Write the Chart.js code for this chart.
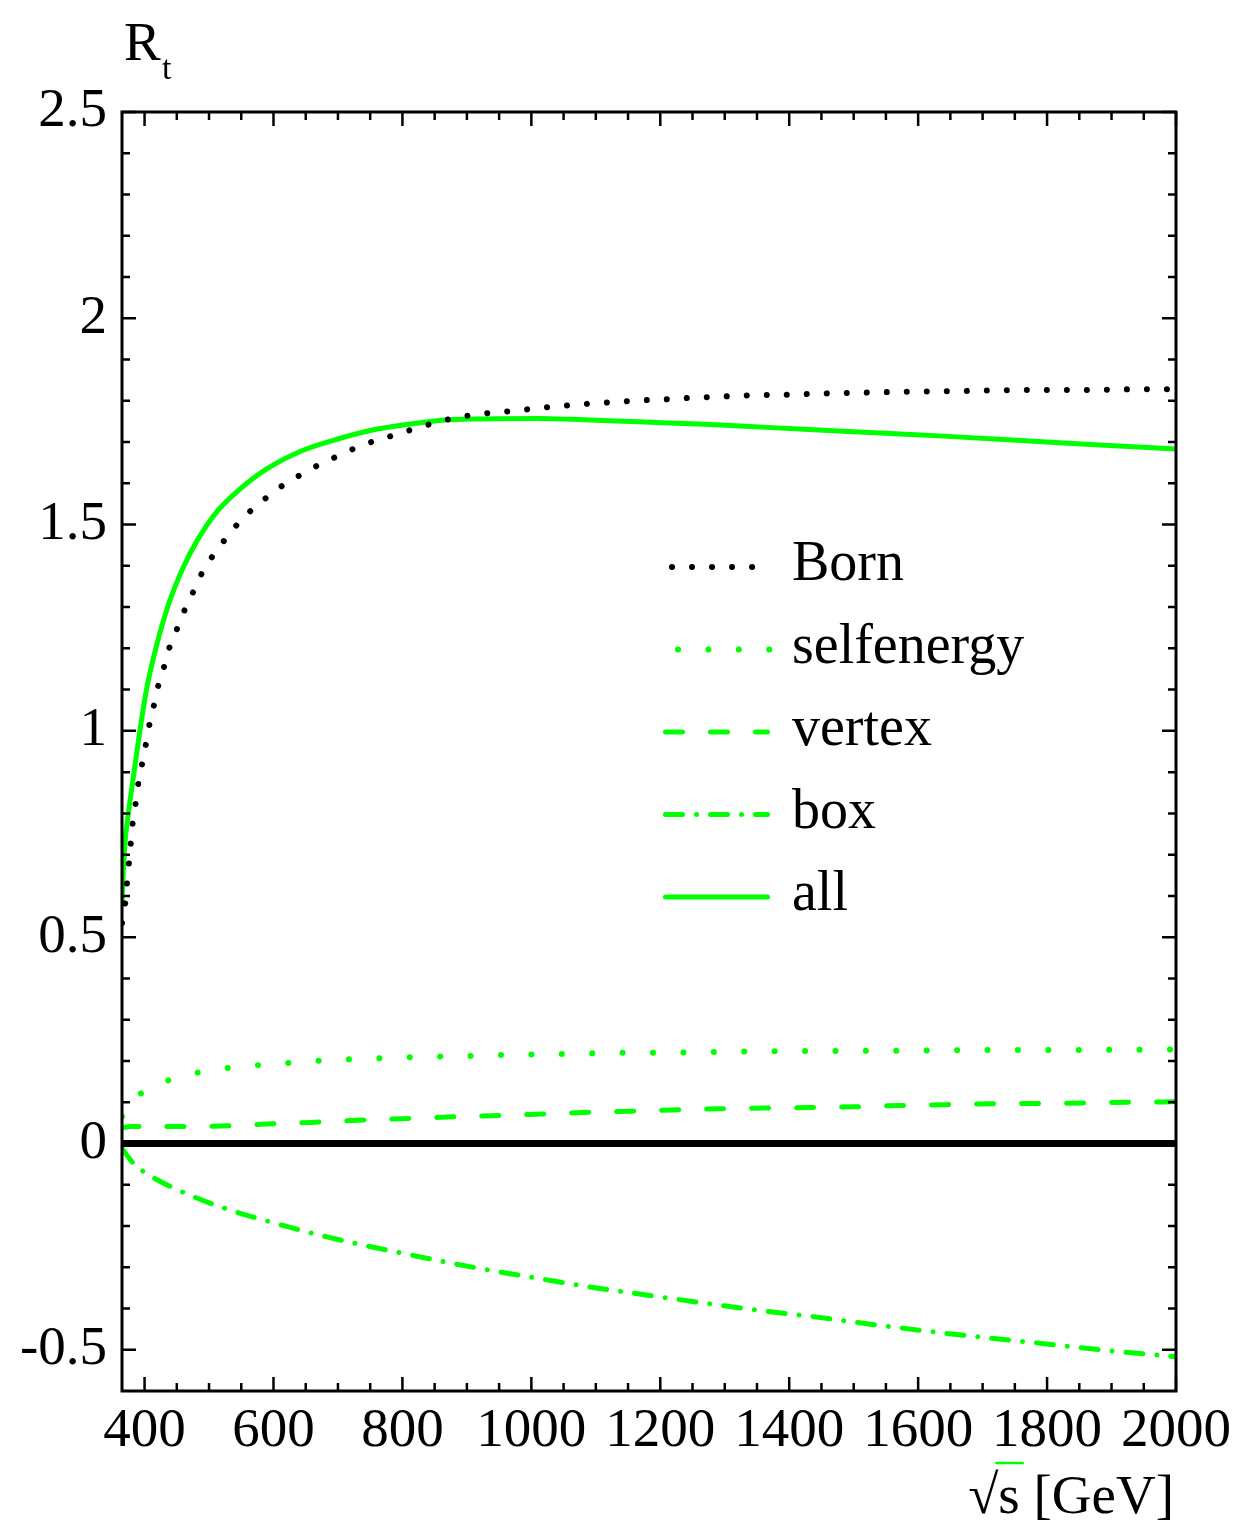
<!DOCTYPE html>
<html>
<head>
<meta charset="utf-8">
<title>R_t vs sqrt(s)</title>
<script src="https://cdn.jsdelivr.net/npm/chart.js@4.4.1/dist/chart.umd.min.js"></script>
<style>
  html, body { margin: 0; padding: 0; background: #fff; }
  #wrap { width: 1239px; height: 1537px; }
</style>
</head>
<body>
<div id="wrap"><canvas id="rt" width="1239" height="1537"></canvas></div>
<script>
/* ---------- data ---------- */
var bornSqrtS = [365, 370, 372.6, 375.6, 378.5, 381.4, 386, 390, 395.7, 401.4,
  407, 414, 420.3, 429.5, 437.5, 449, 460.5, 474.3, 487.5, 503.6,
  522.5, 542.5, 565, 589.6, 615.5, 644.7, 674.5, 705.5, 736.4, 768.6,
  801.8, 835, 877, 907, 937, 968, 998, 1029, 1060, 1090,
  1121, 1151, 1182, 1213, 1244, 1275, 1305, 1336, 1398, 1458,
  1520, 1582, 1643, 1704, 1765, 1827, 1888, 1950, 2000];
var bornR = [0.534, 0.582, 0.63, 0.677, 0.726, 0.774, 0.822, 0.869, 0.916, 0.962,
  1.011, 1.058, 1.104, 1.151, 1.197, 1.242, 1.287, 1.333, 1.378, 1.419,
  1.459, 1.498, 1.534, 1.566, 1.596, 1.623, 1.648, 1.670, 1.692, 1.708,
  1.724, 1.740, 1.757, 1.765, 1.771, 1.775, 1.780, 1.785, 1.789, 1.793,
  1.796, 1.799, 1.802, 1.804, 1.807, 1.809, 1.811, 1.813, 1.815, 1.818,
  1.820, 1.822, 1.823, 1.825, 1.826, 1.826, 1.827, 1.828, 1.828];

var selfSqrtS = [365, 374.6, 412, 456, 501.8, 547.8, 594.8, 641.8, 687.8, 734.8,
  781.8, 828.8, 875.2, 922.2, 969.2, 1016.3, 1063.3, 1109.3, 1157.3, 1204,
  1298, 1391, 1485, 1578, 1673, 1765, 1860, 1955, 2000];
var selfR = [0.065, 0.0935, 0.136, 0.162, 0.177, 0.186, 0.192, 0.197, 0.202, 0.205,
  0.207, 0.210, 0.211, 0.213, 0.215, 0.216, 0.217, 0.219, 0.220, 0.220,
  0.222, 0.2236, 0.2243, 0.225, 0.226, 0.2267, 0.2267, 0.2275, 0.228];

var vertexSqrtS = [365, 379, 448, 518.5, 589, 659.5, 729, 799.5, 869.7, 939.4,
  1009.7, 1080, 1150.6, 1219, 1291, 1361, 1432, 1501, 1573, 1642.6,
  1714, 1784, 1855, 1925, 1991, 2000];
var vertexR = [0.038, 0.041, 0.041, 0.042, 0.047, 0.051, 0.056, 0.060, 0.064, 0.067,
  0.071, 0.075, 0.078, 0.081, 0.084, 0.086, 0.087, 0.089, 0.092, 0.094,
  0.096, 0.097, 0.098, 0.100, 0.101, 0.102];

var boxSqrtS = [365, 383.6, 404, 469.7, 531.7, 601.4, 668.5, 738, 806, 875,
  945, 1014, 1083, 1154, 1222, 1292, 1361, 1433, 1501, 1572,
  1642, 1712, 1781.5, 1851, 1921, 1993, 2000];
var boxR = [-0.012, -0.050, -0.074, -0.125, -0.161, -0.193, -0.221, -0.246, -0.268, -0.290,
  -0.310, -0.328, -0.346, -0.362, -0.377, -0.392, -0.406, -0.419, -0.433, -0.447,
  -0.460, -0.472, -0.483, -0.495, -0.506, -0.516, -0.517];

var allSqrtS = [365, 367, 370, 374, 381, 391.6, 403, 417.5, 437.5, 460.5,
  483.4, 512, 546.5, 586.6, 644, 701, 759, 833, 862, 919,
  1012, 1063, 1166, 1270, 1373, 1476, 1580, 1632, 1760, 1889, 2000];
var allR = [0.585, 0.66, 0.735, 0.79, 0.87, 0.988, 1.100, 1.200, 1.308, 1.398,
  1.466, 1.531, 1.584, 1.632, 1.679, 1.708, 1.731, 1.748, 1.753, 1.756,
  1.757, 1.755, 1.749, 1.743, 1.735, 1.727, 1.719, 1.715, 1.704, 1.692, 1.683];

var zeroSqrtS = [365, 2000];
var zeroR = [0, 0];

var xTicks = [400, 600, 800, 1000, 1200, 1400, 1600, 1800, 2000];
var yTicks = [-0.5, 0, 0.5, 1, 1.5, 2, 2.5];
var legendLabels = ['Born', 'selfenergy', 'vertex', 'box', 'all'];

/* ---------- style ---------- */
var GREEN = 'rgb(0,255,0)';
var FONT = "'Liberation Serif', 'Times New Roman', serif";
var X_MIN = 365, X_MAX = 2000, Y_MIN = -0.6, Y_MAX = 2.5;

function pts(xs, ys) {
  return xs.map(function (x, i) { return { x: x, y: ys[i] }; });
}
function line(label, xs, ys, color, width, dash) {
  return {
    label: label, data: pts(xs, ys),
    borderColor: color, borderWidth: width, borderDash: dash || [],
    borderCapStyle: 'round', borderJoinStyle: 'round',
    pointRadius: 0, pointHoverRadius: 0, fill: false,
    cubicInterpolationMode: 'monotone'
  };
}

var styles = {
  Born:       { color: '#000', width: 6, dash: [0.01, 20] },
  selfenergy: { color: GREEN, width: 6, dash: [0.01, 30.4] },
  vertex:     { color: GREEN, width: 5, dash: [17, 28] },
  box:        { color: GREEN, width: 5, dash: [17, 14, 0.01, 14] },
  all:        { color: GREEN, width: 5, dash: [] }
};

/* ---------- frame, inner ticks, legend, titles ---------- */
var decor = {
  id: 'decor',
  afterDatasetsDraw: function (chart) {
    var ctx = chart.ctx, ca = chart.chartArea;
    var xs = chart.scales.x, ys = chart.scales.y;
    ctx.save();

    // tick marks pointing inwards, on all four sides
    ctx.strokeStyle = '#000';
    ctx.lineWidth = 2.5;
    ctx.beginPath();
    var v, px, len;
    for (v = 400; v <= X_MAX + 1e-6; v += 50) {
      px = xs.getPixelForValue(v);
      len = (v % 200 === 0) ? 14 : 8;
      ctx.moveTo(px, ca.bottom); ctx.lineTo(px, ca.bottom - len);
      ctx.moveTo(px, ca.top); ctx.lineTo(px, ca.top + len);
    }
    for (var k = -5; k <= 25; k++) {
      v = k / 10;
      px = ys.getPixelForValue(v);
      len = (k % 5 === 0) ? 14 : 8;
      ctx.moveTo(ca.left, px); ctx.lineTo(ca.left + len, px);
      ctx.moveTo(ca.right, px); ctx.lineTo(ca.right - len, px);
    }
    ctx.stroke();

    // frame
    ctx.lineWidth = 3;
    ctx.strokeRect(ca.left, ca.top, ca.right - ca.left, ca.bottom - ca.top);

    // legend
    var lx0 = ca.left + 543.5, lx1 = ca.left + 645.5;
    var rowY = ca.top + 455, rowStep = 82.5;
    ctx.font = '56px ' + FONT;
    ctx.textAlign = 'left';
    ctx.textBaseline = 'alphabetic';
    legendLabels.forEach(function (name, i) {
      var st = styles[name];
      var y = rowY + i * rowStep;
      var a = lx0, b = lx1;
      if (name === 'Born') { a = ca.left + 550; b = ca.left + 634; }
      if (name === 'selfenergy') { a = ca.left + 556; b = ca.left + 648; }
      ctx.beginPath();
      ctx.setLineDash(st.dash);
      ctx.lineCap = 'round';
      ctx.lineWidth = st.width;
      ctx.strokeStyle = st.color;
      ctx.moveTo(a, y); ctx.lineTo(b, y);
      ctx.stroke();
      ctx.setLineDash([]);
      ctx.fillStyle = '#000';
      ctx.fillText(name, ca.left + 670, y + 13);
    });

    // y title R_t
    ctx.fillStyle = '#000';
    ctx.font = '55px ' + FONT;
    ctx.fillText('R', 124, 60);
    ctx.font = '34px ' + FONT;
    ctx.fillText('t', 162, 79);

    // x title  \u221As [GeV]
    ctx.font = '55px ' + FONT;
    var rest = 's [GeV]';
    var wRest = ctx.measureText(rest).width;
    var wRad = ctx.measureText('\u221A').width;
    var wS = ctx.measureText('s').width;
    var xEnd = 1174, base = 1513;
    var xRest = xEnd - wRest;
    ctx.textAlign = 'left';
    ctx.fillText('\u221A', xRest - wRad, base);
    ctx.fillText(rest, xRest, base);
    ctx.lineWidth = 2.5;
    ctx.beginPath();
    ctx.moveTo(xRest - 2, base - 50);
    ctx.lineTo(xRest + wS + 3, base - 50);
    ctx.stroke();

    ctx.restore();
  }
};

var datasets = [
  line('Born', bornSqrtS, bornR, styles.Born.color, styles.Born.width, styles.Born.dash),
  line('zero', zeroSqrtS, zeroR, '#000', 7, []),
  line('selfenergy', selfSqrtS, selfR, styles.selfenergy.color, styles.selfenergy.width, styles.selfenergy.dash),
  line('vertex', vertexSqrtS, vertexR, styles.vertex.color, styles.vertex.width, styles.vertex.dash),
  line('box', boxSqrtS, boxR, styles.box.color, styles.box.width, styles.box.dash),
  line('all', allSqrtS, allR, styles.all.color, styles.all.width, styles.all.dash)
];

new Chart(document.getElementById('rt').getContext('2d'), {
  type: 'line',
  data: { datasets: datasets },
  options: {
    responsive: false, animation: false, devicePixelRatio: 1,
    layout: { padding: { top: 112, right: 61, left: 0, bottom: 0 } },
    plugins: { legend: { display: false }, tooltip: { enabled: false } },
    scales: {
      x: {
        type: 'linear', min: X_MIN, max: X_MAX,
        grid: { display: false, drawTicks: false },
        border: { display: false },
        afterBuildTicks: function (s) { s.ticks = xTicks.map(function (v) { return { value: v }; }); },
        afterFit: function (s) { s.height = 146; },
        ticks: {
          autoSkip: false, maxRotation: 0, padding: 8, color: '#000',
          font: { family: FONT, size: 55 },
          callback: function (v) { return String(v); }
        }
      },
      y: {
        type: 'linear', min: Y_MIN, max: Y_MAX,
        grid: { display: false, drawTicks: false },
        border: { display: false },
        afterBuildTicks: function (s) { s.ticks = yTicks.map(function (v) { return { value: v }; }); },
        afterFit: function (s) { s.width = 122; },
        ticks: {
          autoSkip: false, padding: 15, color: '#000',
          font: { family: FONT, size: 55 },
          callback: function (v) { return String(v); }
        }
      }
    }
  },
  plugins: [decor]
});
</script>
</body>
</html>
